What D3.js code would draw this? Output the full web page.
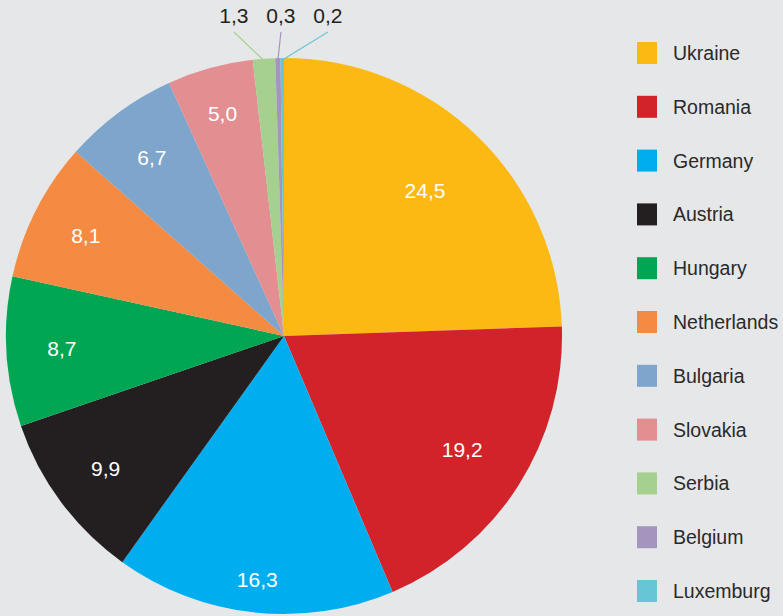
<!DOCTYPE html>
<html>
<head>
<meta charset="utf-8">
<script src="https://cdn.jsdelivr.net/npm/d3@7"></script>
<style>
  body { margin: 0; background: #e6e7e8; }
  svg { display: block; font-family: "Liberation Sans", Arial, sans-serif; }
</style>
</head>
<body>
<svg id="chart" width="783" height="616"></svg>
<script>
// data
var countries = ['Ukraine', 'Romania', 'Germany', 'Austria', 'Hungary', 'Netherlands',
                 'Bulgaria', 'Slovakia', 'Serbia', 'Belgium', 'Luxemburg'];
var shares = [24.5, 19.2, 16.3, 9.9, 8.7, 8.1, 6.7, 5.0, 1.3, 0.3, 0.2];
var colours = ['#fdb913', '#d2232a', '#00aeef', '#231f20', '#00a651', '#f58b42',
               '#7ea5cb', '#e38e91', '#a6d08f', '#a495be', '#67c6d6'];

var width = 783, height = 616;
var cx = 284, cy = 336, radius = 278;

// where the inside labels sit, as a fraction of the radius (default 0.8)
var labelFactor = { Ukraine: 0.73, Romania: 0.76, Germany: 0.88, Slovakia: 0.83 };
var smallLimit = 2; // slices below this get outside labels

var fmt = function(v) { return d3.format('.1f')(v).replace('.', ','); };

var svg = d3.select('#chart');
var color = d3.scaleOrdinal().domain(countries).range(colours);

var rows = countries.map(function(c, i) { return { name: c, value: shares[i] }; });

var pie = d3.pie().sort(null).value(function(d) { return d.value; });
var arcs = pie(rows);
var arc = d3.arc().innerRadius(0).outerRadius(radius);

var g = svg.append('g').attr('transform', 'translate(' + cx + ',' + cy + ')');

g.selectAll('path')
  .data(arcs)
  .enter()
  .append('path')
  .attr('d', arc)
  .attr('fill', function(d) { return color(d.data.name); });

// labels inside the big slices
function pointAt(angle, r) {
  return [Math.sin(angle) * r, -Math.cos(angle) * r];
}

g.selectAll('text.inside')
  .data(arcs.filter(function(d) { return d.data.value >= smallLimit; }))
  .enter()
  .append('text')
  .attr('class', 'inside')
  .attr('text-anchor', 'middle')
  .attr('dominant-baseline', 'central')
  .attr('fill', '#fff')
  .style('font-size', '21px')
  .attr('x', function(d) {
    var f = labelFactor[d.data.name] || 0.8;
    return pointAt((d.startAngle + d.endAngle) / 2, radius * f)[0];
  })
  .attr('y', function(d) {
    var f = labelFactor[d.data.name] || 0.8;
    return pointAt((d.startAngle + d.endAngle) / 2, radius * f)[1];
  })
  .text(function(d) { return fmt(d.data.value); });

// small slices: labels above the pie with leader lines
var small = arcs.filter(function(d) { return d.data.value < smallLimit; });
var spread = 47, lineTop = 32 - cy;
var midSmall = pointAt((small[1].startAngle + small[1].endAngle) / 2, radius)[0] + 3;

small.forEach(function(d, i) {
  var p = pointAt((d.startAngle + d.endAngle) / 2, radius - 2);
  var lx = midSmall + (i - 1) * spread;
  g.append('line')
    .attr('x1', p[0]).attr('y1', p[1])
    .attr('x2', lx).attr('y2', lineTop)
    .attr('stroke', color(d.data.name))
    .attr('stroke-width', 1.2);
  g.append('text')
    .attr('x', lx)
    .attr('y', lineTop - 9)
    .attr('text-anchor', 'middle')
    .attr('fill', '#231f20')
    .style('font-size', '21px')
    .text(fmt(d.data.value));
});

// legend
var legendY = d3.scalePoint().domain(countries).range([53, 591]);

var legend = svg.append('g')
  .selectAll('g')
  .data(countries)
  .enter()
  .append('g')
  .attr('transform', function(d) { return 'translate(637,' + legendY(d) + ')'; });

legend.append('rect')
  .attr('x', 0).attr('y', -11)
  .attr('width', 20).attr('height', 22)
  .attr('fill', function(d) { return color(d); });

legend.append('text')
  .attr('x', 36)
  .attr('dominant-baseline', 'central')
  .attr('fill', '#2a2a2a')
  .style('font-size', '19.5px')
  .text(function(d) { return d; });
</script>
</body>
</html>
